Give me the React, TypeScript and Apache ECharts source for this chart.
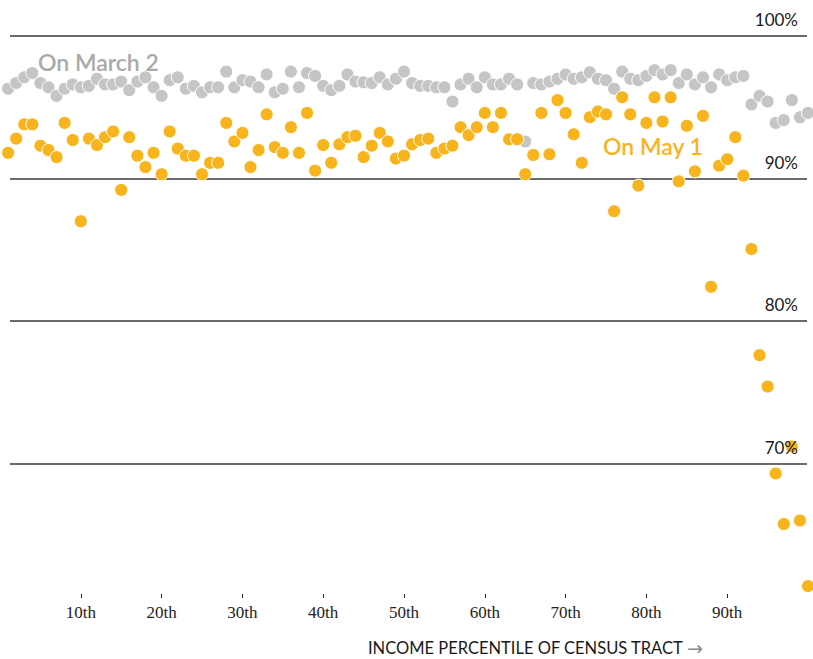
import React, { useEffect, useRef } from "react";
import * as echarts from "echarts";

const percentiles = Array.from({ length: 100 }, (_, i) => i + 1);

const march2 = [
  96.3, 96.7, 97.1, 97.4, 96.7, 96.4, 95.8, 96.3, 96.6, 96.4,
  96.5, 97.0, 96.6, 96.6, 96.8, 96.2, 96.8, 97.1, 96.4, 95.8,
  96.9, 97.1, 96.3, 96.5, 96.05, 96.4, 96.4, 97.5, 96.4, 96.9,
  96.8, 96.4, 97.3, 96.05, 96.3, 97.5, 96.4, 97.4, 97.2, 96.5,
  96.2, 96.5, 97.3, 96.8, 96.75, 96.7, 97.1, 96.6, 97.0, 97.5,
  96.7, 96.5, 96.5, 96.4, 96.4, 95.4, 96.6, 97.0, 96.4, 97.1,
  96.6, 96.6, 97.0, 96.6, 92.6, 96.7, 96.6, 96.8, 97.0, 97.3,
  97.0, 97.1, 97.45, 97.0, 96.9, 96.3, 97.5, 97.0, 96.9, 97.2,
  97.6, 97.3, 97.6, 96.7, 97.3, 96.6, 97.1, 96.4, 97.3, 96.9,
  97.1, 97.2, 95.2, 95.8, 95.4, 93.9, 94.1, 95.5, 94.3, 94.6,
];

const may1 = [
  91.8, 92.8, 93.8, 93.8, 92.3, 92.0, 91.5, 93.9, 92.7, 87.0,
  92.8, 92.35, 92.9, 93.3, 89.2, 92.9, 91.6, 90.8, 91.8, 90.3,
  93.3, 92.1, 91.6, 91.6, 90.3, 91.1, 91.1, 93.9, 92.6, 93.2,
  90.8, 92.0, 94.5, 92.2, 91.8, 93.6, 91.8, 94.6, 90.55, 92.35,
  91.1, 92.4, 92.9, 93.0, 91.5, 92.3, 93.2, 92.6, 91.4, 91.6,
  92.4, 92.7, 92.8, 91.8, 92.1, 92.3, 93.6, 93.05, 93.6, 94.6,
  93.6, 94.6, 92.75, 92.75, 90.3, 91.65, 94.6, 91.7, 95.5, 94.6,
  93.1, 91.1, 94.3, 94.7, 94.5, 87.7, 95.7, 94.5, 89.5, 93.9,
  95.7, 94.0, 95.7, 89.8, 93.7, 90.5, 94.4, 82.4, 90.9, 91.35,
  92.9, 90.2, 85.05, 77.6, 75.4, 69.3, 65.75, 71.2, 66.0, 61.4,
];

const xTickValues = [10, 20, 30, 40, 50, 60, 70, 80, 90];
const yTickValues = [70, 80, 90, 100];
const seriesLabels = ["On March 2", "On May 1"];
const axisTitle = "INCOME PERCENTILE OF CENSUS TRACT";

const GRAY = "#c5c5c5";
const GRAY_TEXT = "#a9a9a9";
const ORANGE = "#f8b41c";
const SANS = "Lato, 'Open Sans', 'Noto Sans', sans-serif";
const SERIF = "'Liberation Serif', 'DejaVu Serif', serif";

export default function App() {
  const ref = useRef<HTMLDivElement>(null);

  useEffect(() => {
    const chart = echarts.init(ref.current!, null, { renderer: "svg" });
    chart.setOption({
      animation: false,
      backgroundColor: "#ffffff",
      grid: [
        { left: 0, right: 5, top: 36, bottom: 53 },
        { left: 10, right: 6, top: 36, bottom: 53 },
      ],
      xAxis: [
        {
          gridIndex: 0,
          type: "value",
          min: 0,
          max: 100,
          offset: -12,
          splitLine: { show: false },
          axisLine: { show: false },
          axisTick: {
            show: true,
            customValues: xTickValues,
            length: 4,
            lineStyle: { color: "#222", width: 1 },
          },
          axisLabel: {
            customValues: xTickValues,
            formatter: (v: number) => `${v}th`,
            fontFamily: SERIF,
            fontSize: 17,
            color: "#222",
            margin: 10,
          },
        },
        { gridIndex: 1, type: "value", min: 0, max: 1, show: false },
      ],
      yAxis: [
        { gridIndex: 0, type: "value", min: 60, max: 100, show: false },
        {
          gridIndex: 1,
          type: "value",
          min: 60,
          max: 100,
          interval: 10,
          position: "right",
          axisLine: { show: false },
          axisTick: { show: false },
          axisLabel: { show: false },
          splitLine: {
            show: true,
            lineStyle: {
              color: ["rgba(0,0,0,0)", "#3a3a3a", "#3a3a3a", "#3a3a3a", "#3a3a3a"],
              width: 1.5,
            },
          },
        },
        {
          gridIndex: 1,
          type: "value",
          min: 60,
          max: 100,
          interval: 10,
          position: "right",
          z: 10,
          axisLine: { show: false },
          axisTick: { show: false },
          splitLine: { show: false },
          axisLabel: {
            inside: true,
            margin: 9,
            customValues: yTickValues,
            formatter: (v: number) => `${v}%`,
            fontFamily: SANS,
            fontSize: 17,
            color: "#1a1a1a",
            verticalAlign: "bottom",
            lineHeight: 33,
          },
        },
      ],
      series: [
        {
          name: seriesLabels[0],
          type: "scatter",
          xAxisIndex: 0,
          yAxisIndex: 0,
          z: 2,
          symbolSize: 13,
          itemStyle: { color: GRAY, borderColor: "#ffffff", borderWidth: 1, opacity: 1 },
          data: percentiles.map((p, i) => [p, march2[i]]),
        },
        {
          name: seriesLabels[1],
          type: "scatter",
          xAxisIndex: 0,
          yAxisIndex: 0,
          z: 3,
          symbolSize: 13,
          itemStyle: { color: ORANGE, borderColor: "#ffffff", borderWidth: 1, opacity: 1 },
          data: percentiles.map((p, i) => [p, may1[i]]),
        },
      ],
      graphic: [
        {
          type: "text",
          x: 38,
          y: 62,
          z: 20,
          style: {
            text: seriesLabels[0],
            fill: GRAY_TEXT,
            fontFamily: SANS,
            fontSize: 23,
            fontWeight: 600,
            align: "left",
            verticalAlign: "middle",
          },
        },
        {
          type: "text",
          x: 603,
          y: 146,
          z: 20,
          style: {
            text: seriesLabels[1],
            fill: ORANGE,
            fontFamily: SANS,
            fontSize: 23,
            fontWeight: 600,
            align: "left",
            verticalAlign: "middle",
          },
        },
        {
          type: "text",
          x: 368,
          y: 648,
          z: 20,
          style: {
            text: `{t|${axisTitle}} {a|→}`,
            align: "left",
            verticalAlign: "middle",
            rich: {
              t: { fontFamily: SANS, fontSize: 16.5, fill: "#1a1a1a", color: "#1a1a1a" },
              a: { fontFamily: "'DejaVu Sans', sans-serif", fontSize: 19, fill: "#888", color: "#888" },
            },
          },
        },
      ],
    });
    return () => chart.dispose();
  }, []);

  return (
    <div
      ref={ref}
      style={{ position: "fixed", left: 0, top: 0, width: 813, height: 659 }}
    />
  );
}
